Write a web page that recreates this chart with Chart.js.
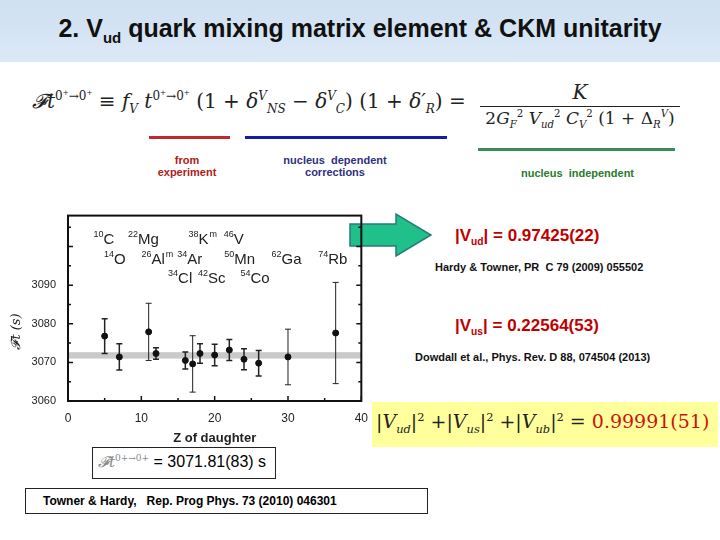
<!DOCTYPE html>
<html><head><meta charset="utf-8">
<script src="https://cdn.jsdelivr.net/npm/chart.js@4"></script>
<style>
body{margin:0;width:720px;height:540px;position:relative;background:#fff;font-family:"Liberation Sans",Arial,sans-serif;overflow:hidden}
.a{position:absolute;white-space:nowrap}
#title{left:0;top:0;width:720px;height:62px;background:linear-gradient(#cfe0f2,#dbe8f6);}
#title div{position:absolute;left:0;width:720px;top:14px;text-align:center;font-weight:bold;font-size:25px;color:#111}
.f{font-family:"DejaVu Serif","Liberation Serif",serif;font-size:20px;color:#222}
.f i{font-style:italic}
sub,sup{font-size:60%}
.ln{position:absolute;height:3px}
.sm{font-size:11px;font-weight:bold;text-align:center}
</style></head><body>
<div class="a" id="title"><div>2. V<sub>ud</sub> quark mixing matrix element &amp; CKM unitarity</div></div>
<div class="a f" style="left:32px;top:88px"><i>𝓕t</i><sup>0<sup>+</sup>→0<sup>+</sup></sup> ≡ <i>f<sub>V</sub> t</i><sup>0<sup>+</sup>→0<sup>+</sup></sup> (1 + <i>δ</i><sup><i>V</i></sup><sub><i>NS</i></sub> − <i>δ</i><sup><i>V</i></sup><sub><i>C</i></sub>) (1 + <i>δ′<sub>R</sub></i>) =</div>
<div class="a f" style="left:480px;top:80px;width:200px;text-align:center"><i>K</i></div>
<div class="a" style="left:480px;top:106px;width:200px;height:1px;background:#222"></div>
<div class="a f" style="left:480px;top:108px;width:200px;text-align:center;font-size:17px">2<i>G</i><sub><i>F</i></sub><sup>2</sup> <i>V</i><sub><i>ud</i></sub><sup>2</sup> <i>C</i><sub><i>V</i></sub><sup>2</sup> (1 + Δ<sub><i>R</i></sub><sup><i>V</i></sup>)</div>
<div class="ln" style="left:149px;width:81px;top:136px;background:#c0282d"></div>
<div class="ln" style="left:245px;width:202px;top:136px;background:#1a1aa8"></div>
<div class="ln" style="left:478px;width:197px;top:148px;background:#3a8a5a"></div>
<div class="a sm" style="left:137px;width:100px;top:154px;color:#b02020">from<br>experiment</div>
<div class="a sm" style="left:265px;width:140px;top:154px;color:#303080">nucleus&nbsp; dependent<br>corrections</div>
<div class="a sm" style="left:500px;width:155px;top:167px;color:#2a7a2a">nucleus&nbsp; independent</div>
<svg class="a" style="left:348px;top:212px" width="86" height="46"><polygon points="2,12 48,12 48,2 83,23 48,44 48,34 2,34" fill="#1fc08a" stroke="#2a7a7a" stroke-width="1.5"/></svg>
<div class="a" style="left:455px;top:226px;font-size:17px;font-weight:bold;color:#c00000">|V<sub>ud</sub>| = 0.97425(22)</div>
<div class="a" style="left:435px;top:261px;font-size:11px;font-weight:bold;color:#111">Hardy &amp; Towner, PR&nbsp; C 79 (2009) 055502</div>
<div class="a" style="left:455px;top:316px;font-size:17px;font-weight:bold;color:#c00000">|V<sub>us</sub>| = 0.22564(53)</div>
<div class="a" style="left:415px;top:351px;font-size:11px;font-weight:bold;color:#111">Dowdall et al., Phys. Rev. D 88, 074504 (2013)</div>
<div class="a" style="left:372px;top:402px;width:346px;height:45px;background:#ffff9c"></div>
<div class="a f" style="left:376px;top:410px;font-size:19px">|<i>V<sub>ud</sub></i>|<sup>2</sup> +|<i>V<sub>us</sub></i>|<sup>2</sup> +|<i>V<sub>ub</sub></i>|<sup>2</sup> = <span style="color:#d01010">0.99991(51)</span></div>
<div class="a" style="left:92px;top:447px;width:182px;height:30px;border:1px solid #222"></div>
<div class="a" style="left:98px;top:453px;font-size:16px"><span class="f" style="font-size:15px;color:#888"><i>𝓕t</i><sup>0+→0+</sup></span> = 3071.81(83) s</div>
<div class="a" style="left:25px;top:488px;width:401px;height:24px;border:1px solid #222"></div>
<div class="a" style="left:43px;top:494px;font-size:12px;font-weight:bold">Towner &amp; Hardy,&nbsp;&nbsp; Rep. Prog Phys. 73 (2010) 046301</div>
<div class="a" style="left:0;top:205px;width:370px;height:245px"><canvas id="c" width="370" height="245"></canvas></div>
<script>
const isotopes=["10C","14O","22Mg","26Alm","34Cl","34Ar","38Km","42Sc","46V","50Mn","54Co","62Ga","74Rb"];
const zDaughter=[5,7,11,12,16,17,18,20,22,24,26,30,36.5];
const ftValues=[3076.8,3071.4,3077.9,3072.3,3070.5,3069.6,3072.3,3071.9,3073.2,3070.8,3069.8,3071.4,3077.6];
const ftErrors=[4.5,3.4,7.4,1.5,2.2,7.3,2.5,2.8,2.7,2.7,3.3,7.2,13.1];
const weightedAvg=3071.81, avgErr=0.83;
const yTicks=[3060,3070,3080,3090];
const xTicks=[0,10,20,30,40];
const labelMass=["10","14","22","26","34","34","38","42","46","50","54","62","74"];
const labelSym=["C","O","Mg","Al","Cl","Ar","K","Sc","V","Mn","Co","Ga","Rb"];
const labelSup=["","","","m","","","m","","","","","",""];
const labelZ=[4.9,6.4,10.3,11.6,15.3,16.6,17.8,19.6,22.6,23.4,25.5,29.8,36.1];
const labelFt=[3102.3,3097,3102.3,3097,3092,3097,3102.3,3092,3102.3,3097,3092,3097,3097];

const deco={id:'deco',
 beforeDatasetsDraw(ch){const {ctx,chartArea:a,scales:{x,y}}=ch;
  ctx.save();ctx.fillStyle='#c9c9c9';
  const t=y.getPixelForValue(weightedAvg+avgErr),b=y.getPixelForValue(weightedAvg-avgErr);
  ctx.fillRect(a.left,t,a.right-a.left,b-t);
  ctx.strokeStyle='#222';
  zDaughter.forEach((z,i)=>{const px=x.getPixelForValue(z),p1=y.getPixelForValue(ftValues[i]+ftErrors[i]),p2=y.getPixelForValue(ftValues[i]-ftErrors[i]);
   ctx.lineWidth=ftErrors[i]>7?1:1.5;ctx.beginPath();ctx.moveTo(px,p1);ctx.lineTo(px,p2);ctx.moveTo(px-3,p1);ctx.lineTo(px+3,p1);ctx.moveTo(px-3,p2);ctx.lineTo(px+3,p2);ctx.stroke();});
  ctx.restore();},
 afterDraw(ch){const {ctx,chartArea:a,scales:{x,y}}=ch;
  ctx.save();ctx.strokeStyle='#111';ctx.lineWidth=2;
  ctx.strokeRect(a.left,a.top,a.right-a.left,a.bottom-a.top);
  ctx.lineWidth=1.5;
  for(let v=3060;v<=3105;v+=5){const p=y.getPixelForValue(v);const l=v%10?3:5;ctx.beginPath();ctx.moveTo(a.left,p);ctx.lineTo(a.left+l,p);ctx.moveTo(a.right,p);ctx.lineTo(a.right-l,p);ctx.stroke();}
  for(let v=0;v<=40;v+=5){const p=x.getPixelForValue(v);const l=v%10?3:5;ctx.beginPath();ctx.moveTo(p,a.bottom);ctx.lineTo(p,a.bottom-l);ctx.stroke();}
  ctx.fillStyle='#222';ctx.textBaseline='alphabetic';
  labelZ.forEach((z,i)=>{let px=x.getPixelForValue(z),py=y.getPixelForValue(labelFt[i])+6;
   ctx.font='9px "Liberation Sans",Arial';const mw=ctx.measureText(labelMass[i]).width;
   ctx.font='15px "Liberation Sans",Arial';const sw=ctx.measureText(labelSym[i]).width;
   let sx=px-(mw+sw)/2;ctx.font='9px "Liberation Sans",Arial';ctx.fillText(labelMass[i],sx,py-7);
   ctx.font='15px "Liberation Sans",Arial';ctx.fillText(labelSym[i],sx+mw,py);
   if(labelSup[i]){ctx.font='9px "Liberation Sans",Arial';ctx.fillText(labelSup[i],sx+mw+sw+1,py-7);}
  });
  ctx.translate(20,y.getPixelForValue(3078));ctx.rotate(-Math.PI/2);ctx.font='italic 13px "DejaVu Serif",serif';ctx.textAlign='center';ctx.fillText('𝓕t (s)',0,0);
  ctx.restore();}};

new Chart(document.getElementById('c'),{type:'scatter',
 data:{datasets:[{data:zDaughter.map((z,i)=>({x:z,y:ftValues[i]})),backgroundColor:'#111',borderColor:'#111',pointRadius:3}]},
 options:{responsive:false,animation:false,
  layout:{padding:{top:5,right:8,left:0,bottom:0}},
  plugins:{legend:{display:false},tooltip:{enabled:false}},
  scales:{
   x:{type:'linear',min:0,max:40,afterBuildTicks:s=>{s.ticks=xTicks.map(v=>({value:v}))},
    grid:{display:false},border:{display:false},
    ticks:{color:'#222',font:{size:12,family:'"Liberation Sans",Arial'},padding:2,callback:v=>String(v)},
    title:{display:true,text:'Z of daughter',color:'#222',font:{size:13,weight:'bold',family:'"Liberation Sans",Arial'},padding:{top:4}},
    afterFit:s=>{s.height=49}},
   y:{min:3060,max:3108,afterBuildTicks:s=>{s.ticks=yTicks.map(v=>({value:v}))},
    grid:{display:false},border:{display:false},
    ticks:{color:'#222',font:{size:11,family:'"Liberation Sans",Arial'},padding:4,callback:v=>String(v)},
    afterFit:s=>{s.width=68}}}},
 plugins:[deco]});
</script>
</body></html>
